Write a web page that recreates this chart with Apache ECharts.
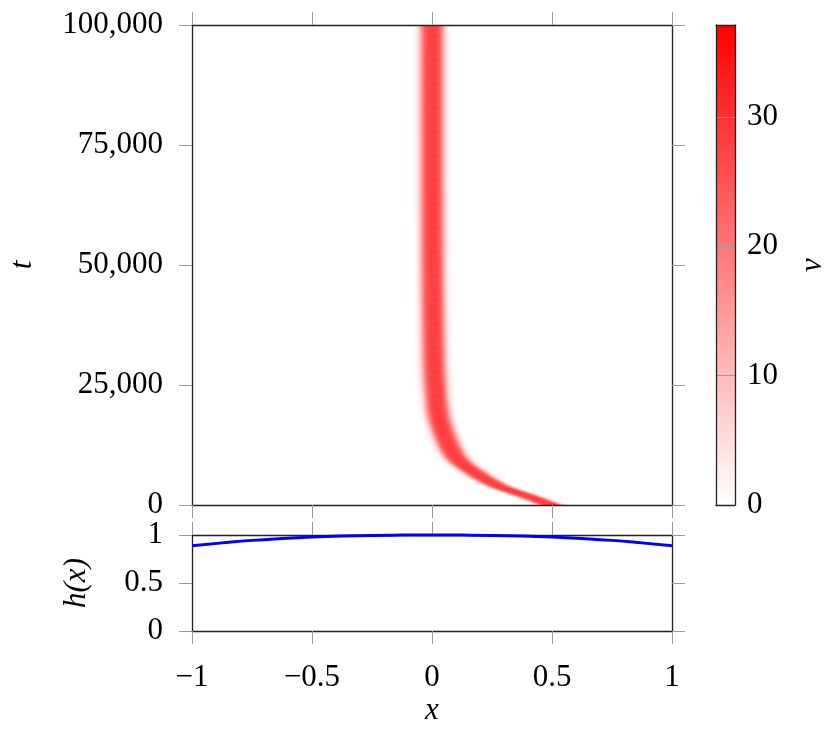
<!DOCTYPE html>
<html>
<head>
<meta charset="utf-8">
<script src="https://cdn.jsdelivr.net/npm/echarts@6/dist/echarts.min.js"></script>
<style>
  html, body { margin: 0; padding: 0; background: #fff; }
  #chart { width: 830px; height: 731px; }
</style>
</head>
<body>
<div id="chart"></div>
<script>
// band of v: centre position (x) at sampled times t
const tKnots = [0, 1000, 2000, 3000, 4000, 5000, 6000, 7000, 8000, 9000, 10000, 12000,
  14000, 16000, 18000, 20000, 25000, 30000, 40000, 50000, 60000, 80000, 100000];
const bandCenter = [0.5, 0.45, 0.395, 0.335, 0.28, 0.24, 0.205, 0.175, 0.145, 0.12, 0.10, 0.075,
  0.057, 0.042, 0.03, 0.022, 0.013, 0.008, 0.004, 0.002, 0.001, 0, 0];
// cross-section of the band: v against distance from centre
const profileOffset = [0, 0.01, 0.02, 0.03, 0.04, 0.05, 0.06, 0.07, 0.08, 0.09];
const profileV = [28, 28, 27, 24, 18, 10, 4.5, 1.5, 0.4, 0];
// colour bar
const vMax = 37.1;
const colorRange = ['#ffffff', '#ff0000'];
// h(x)
const hX = [-1, -0.875, -0.75, -0.625, -0.5, -0.375, -0.25, -0.125, 0, 0.125, 0.25, 0.375, 0.5, 0.625, 0.75, 0.875, 1];
const hY = [0.889, 0.918, 0.944, 0.963, 0.978, 0.989, 0.996, 0.999, 1, 0.999, 0.996, 0.989, 0.978, 0.963, 0.944, 0.918, 0.889];

const FONT = 'Liberation Serif';
const FS = 31;
const TICK = '#999';

function lookup(xs, ys, x) {
  if (x <= xs[0]) return ys[0];
  for (let i = 1; i < xs.length; i++) {
    if (x <= xs[i]) {
      const f = (x - xs[i - 1]) / (xs[i] - xs[i - 1]);
      return ys[i - 1] + f * (ys[i] - ys[i - 1]);
    }
  }
  return ys[ys.length - 1];
}

// smooth (catmull-rom) reading of the band centre between knots
function centerAt(t) {
  const n = tKnots.length;
  let i = 1;
  while (i < n - 1 && t > tKnots[i]) i++;
  const t0 = tKnots[i - 1], t1 = tKnots[i];
  const y0 = bandCenter[i - 1], y1 = bandCenter[i];
  const h = t1 - t0;
  const s = (t - t0) / h;
  const m0 = i > 1 ? (y1 - bandCenter[i - 2]) / (t1 - tKnots[i - 2]) * h : (y1 - y0);
  const m1 = i < n - 1 ? (bandCenter[i + 1] - y0) / (tKnots[i + 1] - t0) * h : (y1 - y0);
  const s2 = s * s, s3 = s2 * s;
  return (2 * s3 - 3 * s2 + 1) * y0 + (s3 - 2 * s2 + s) * m0 + (-2 * s3 + 3 * s2) * y1 + (s3 - s2) * m1;
}

// cells [x0, x1, t0, t1, v]
const dx = 0.004;
const cells = [];
let t0 = 0;
while (t0 < 100000) {
  const dt = t0 < 20000 ? 100 : 250;
  const c = centerAt(t0 + dt / 2);
  for (let i = 0; i < 500; i++) {
    const x0 = -1 + i * dx;
    const d = Math.abs(x0 + dx / 2 - c);
    if (d >= profileOffset[profileOffset.length - 1]) continue;
    cells.push([x0, x0 + dx, t0, t0 + dt, lookup(profileOffset, profileV, d)]);
  }
  t0 += dt;
}

const minus = (v) => String(v).replace('-', '\u2212');

function frameAxis(extra) {
  return Object.assign({
    type: 'value',
    z: 5,
    axisLine: { show: true, onZero: false, lineStyle: { color: '#222', width: 1.3 } },
    axisTick: { show: true, inside: false, length: 13, lineStyle: { color: TICK, width: 1 } },
    axisLabel: { show: false },
    splitLine: { show: false },
  }, extra);
}

const labelStyle = { show: true, fontFamily: FONT, fontSize: FS, color: '#000' };
const nameStyle = { fontFamily: FONT, fontSize: FS, fontStyle: 'italic', color: '#000' };

const chart = echarts.init(document.getElementById('chart'));
chart.setOption({
  animation: false,
  backgroundColor: '#fff',
  grid: [
    { left: 192, top: 25, width: 480, height: 480, containLabel: false, outerBoundsMode: 'none' },
    { left: 192, top: 535, width: 480, height: 96, containLabel: false, outerBoundsMode: 'none' },
    { left: 716, top: 25, width: 19, height: 480, containLabel: false, outerBoundsMode: 'none' },
  ],
  visualMap: {
    type: 'continuous', show: false, min: 0, max: vMax, dimension: 4, seriesIndex: 0,
    inRange: { color: colorRange },
  },
  xAxis: [
    frameAxis({ gridIndex: 0, position: 'bottom', min: -1, max: 1, interval: 0.5 }),
    frameAxis({ gridIndex: 0, position: 'top', min: -1, max: 1, interval: 0.5 }),
    frameAxis({
      gridIndex: 1, position: 'bottom', min: -1, max: 1, interval: 0.5,
      axisLabel: Object.assign({ margin: 31, formatter: minus }, labelStyle),
      name: 'x', nameLocation: 'middle', nameGap: 64, nameTextStyle: nameStyle,
    }),
    frameAxis({ gridIndex: 1, position: 'top', min: -1, max: 1, interval: 0.5 }),
    frameAxis({ gridIndex: 2, position: 'bottom', min: 0, max: 1, axisTick: { show: false } }),
    frameAxis({ gridIndex: 2, position: 'top', min: 0, max: 1, axisTick: { show: false } }),
  ],
  yAxis: [
    frameAxis({
      gridIndex: 0, position: 'left', min: 0, max: 100000, interval: 25000,
      axisLabel: Object.assign({ margin: 29, formatter: (v) => v.toLocaleString('en-US') }, labelStyle),
      name: 't', nameLocation: 'middle', nameRotate: 90, nameGap: 154, nameTextStyle: nameStyle,
    }),
    frameAxis({ gridIndex: 0, position: 'right', min: 0, max: 100000, interval: 25000 }),
    frameAxis({
      gridIndex: 1, position: 'left', min: 0, max: 1, interval: 0.5,
      axisLabel: Object.assign({ margin: 29 }, labelStyle),
      name: '{i|h}{n|(}{i|x}{n|)}', nameLocation: 'middle', nameRotate: 90, nameGap: 100,
      nameTextStyle: Object.assign({}, nameStyle, {
        rich: {
          i: { fontFamily: FONT, fontSize: FS, fontStyle: 'italic', color: '#000' },
          n: { fontFamily: FONT, fontSize: FS, color: '#000' },
        },
      }),
    }),
    frameAxis({ gridIndex: 1, position: 'right', min: 0, max: 1, interval: 0.5 }),
    frameAxis({ gridIndex: 2, position: 'left', min: 0, max: vMax, axisTick: { show: false } }),
    frameAxis({
      gridIndex: 2, position: 'right', min: 0, max: vMax, interval: 10,
      axisTick: { show: false },
      splitLine: { show: true, lineStyle: { color: TICK, width: 1 } },
      axisLabel: Object.assign({ margin: 12, showMaxLabel: false }, labelStyle),
      name: 'v', nameLocation: 'middle', nameRotate: 90, nameGap: 62, nameTextStyle: nameStyle,
    }),
  ],
  series: [
    {
      // v(x, t)
      type: 'custom',
      xAxisIndex: 0, yAxisIndex: 0,
      progressive: 0,
      clip: true,
      encode: { x: [0, 1], y: [2, 3] },
      data: cells,
      renderItem: (params, api) => {
        const p0 = api.coord([api.value(0), api.value(3)]);
        const p1 = api.coord([api.value(1), api.value(2)]);
        return {
          type: 'rect',
          shape: { x: p0[0], y: p0[1], width: p1[0] - p0[0] + 0.5, height: p1[1] - p0[1] + 0.5 },
          style: { fill: api.visual('color') },
        };
      },
    },
    {
      // colour bar
      type: 'custom',
      xAxisIndex: 4, yAxisIndex: 4,
      data: [[0, 1, 0, vMax]],
      renderItem: (params, api) => {
        const p0 = api.coord([api.value(0), api.value(3)]);
        const p1 = api.coord([api.value(1), api.value(2)]);
        return {
          type: 'rect',
          shape: { x: p0[0], y: p0[1], width: p1[0] - p0[0], height: p1[1] - p0[1] },
          style: {
            fill: new echarts.graphic.LinearGradient(0, 1, 0, 0, [
              { offset: 0, color: colorRange[0] },
              { offset: 1, color: colorRange[1] },
            ]),
          },
        };
      },
    },
    {
      type: 'line',
      xAxisIndex: 2, yAxisIndex: 2,
      data: hX.map((x, i) => [x, hY[i]]),
      smooth: true,
      showSymbol: false,
      clip: false,
      lineStyle: { color: '#0000ff', width: 3 },
      z: 6,
    },
  ],
});
</script>
</body>
</html>
